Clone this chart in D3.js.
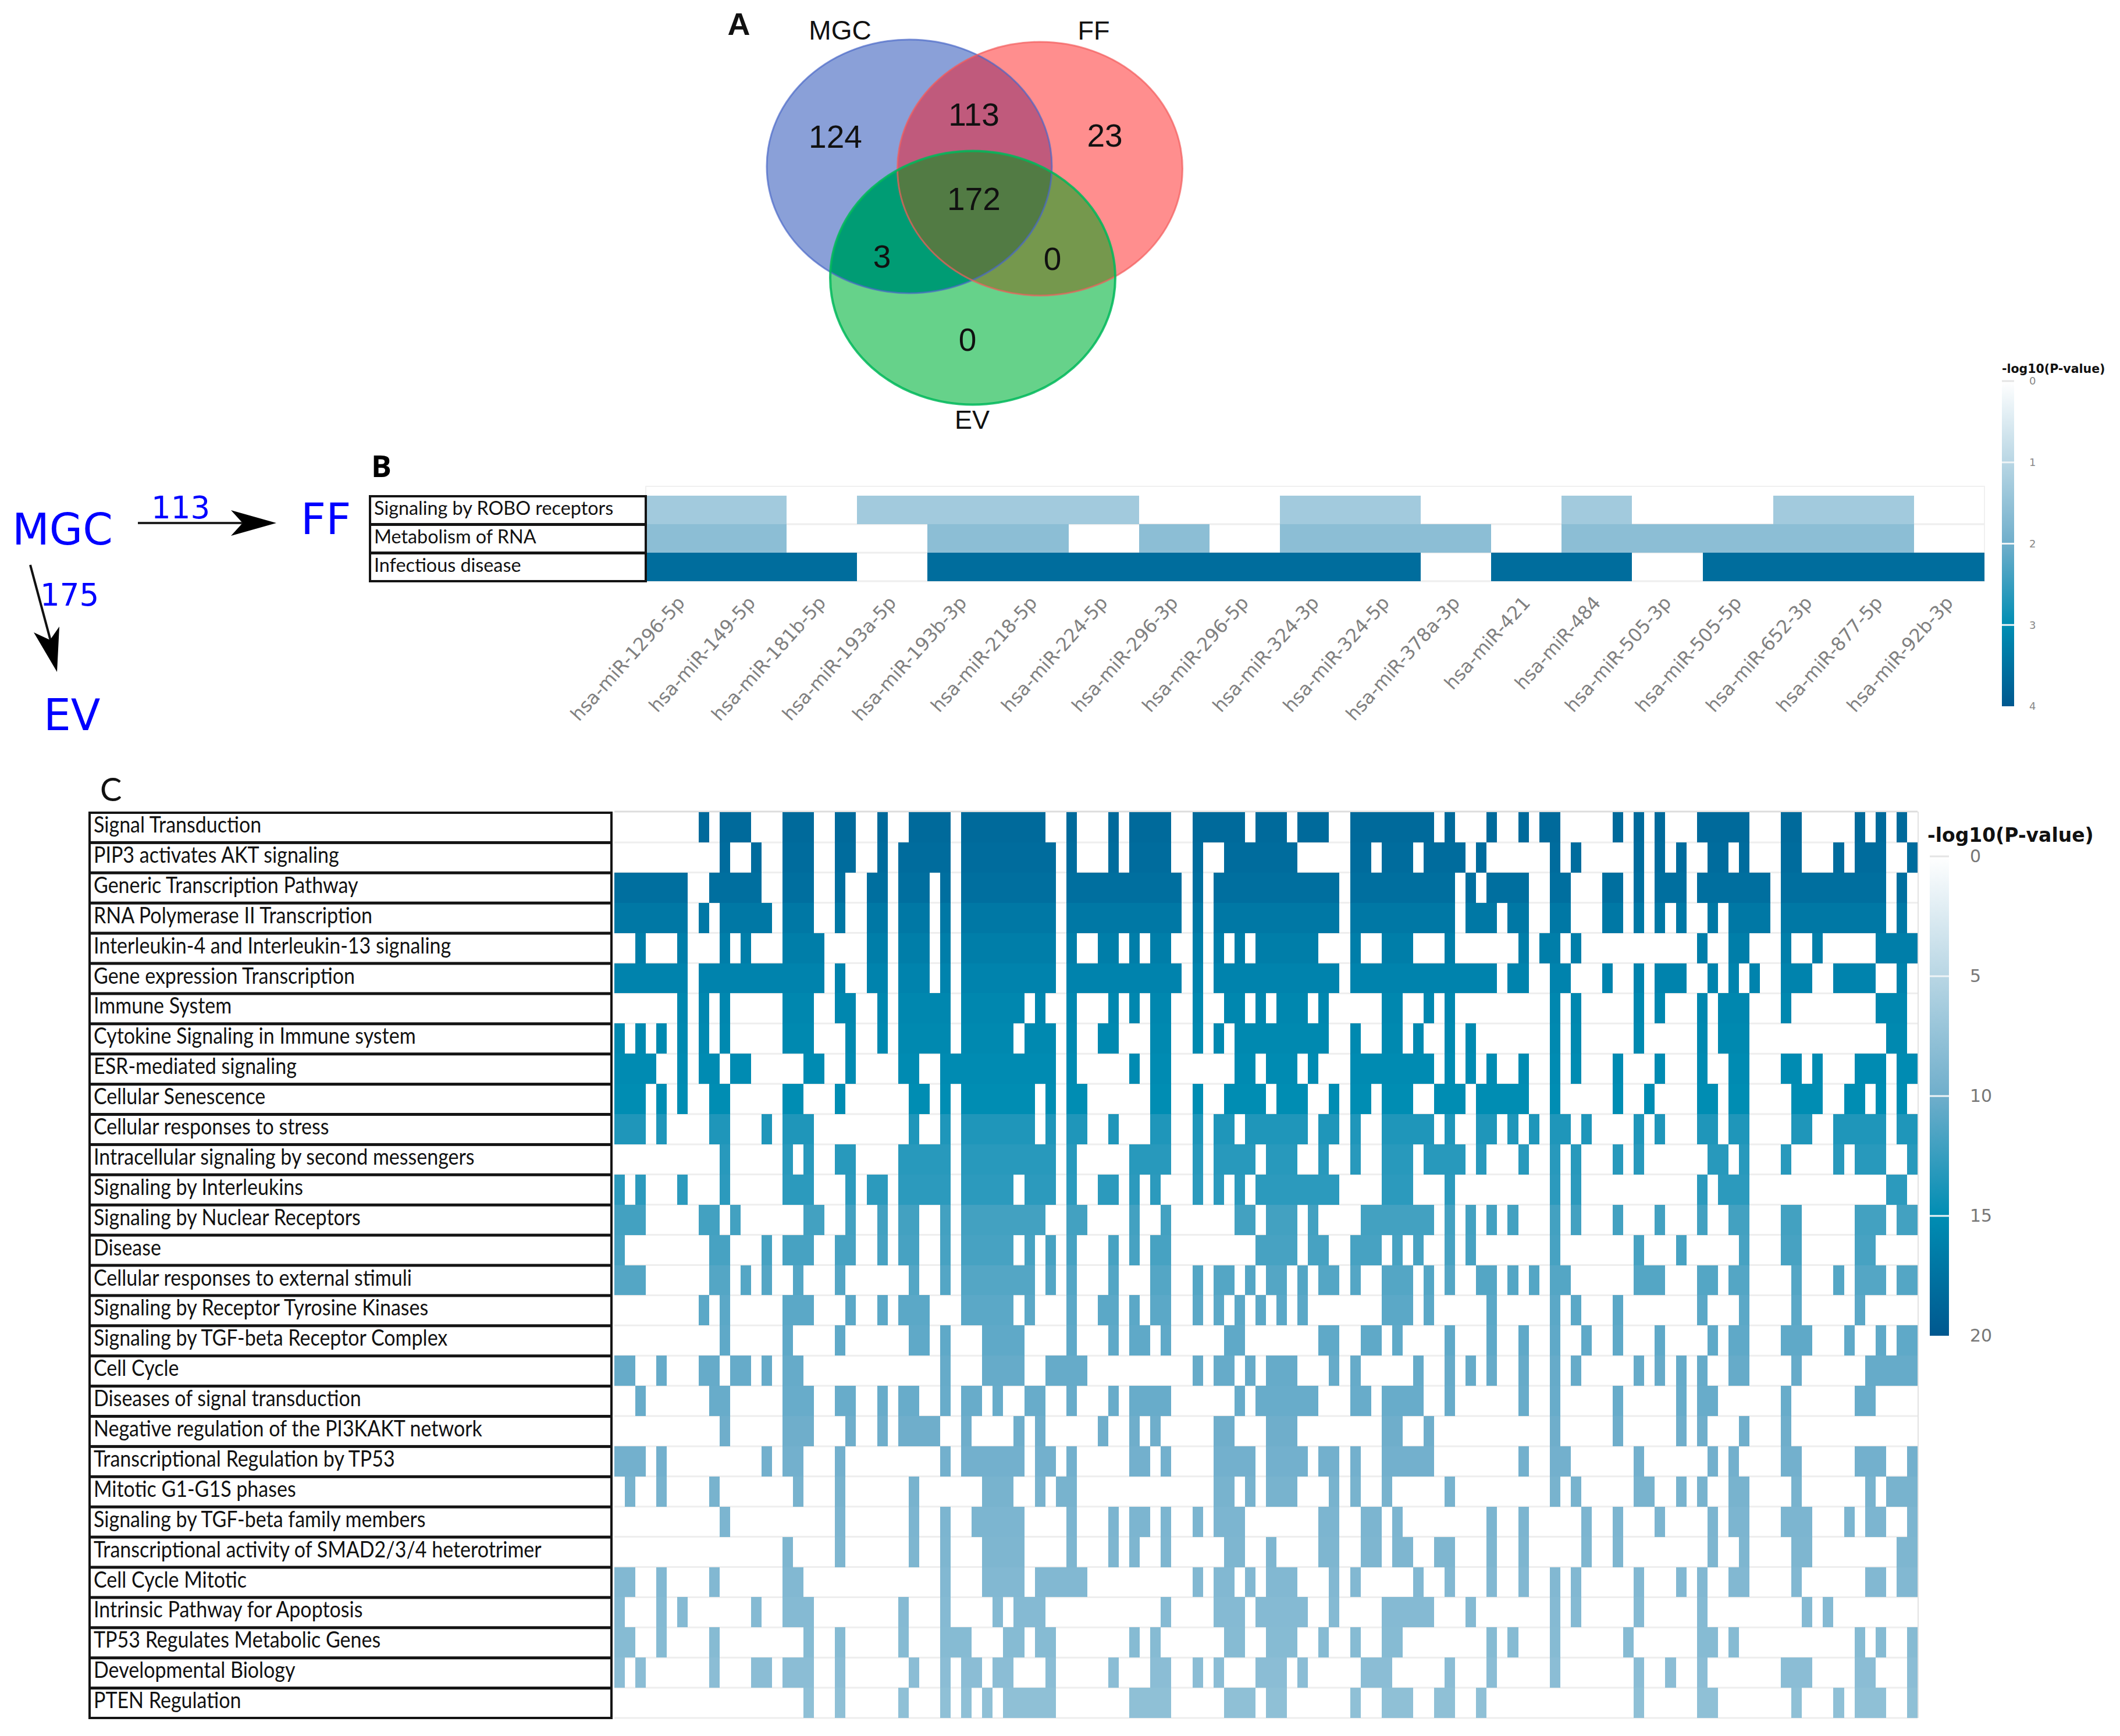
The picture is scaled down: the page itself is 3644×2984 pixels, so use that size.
<!DOCTYPE html>
<html><head><meta charset="utf-8">
<script src="https://cdnjs.cloudflare.com/ajax/libs/d3/7.8.5/d3.min.js"></script>
<style>html,body{margin:0;padding:0;background:#fff}svg{display:block}</style></head>
<body><svg id="c" width="3644" height="2984" xmlns="http://www.w3.org/2000/svg"></svg>
<script>
// ---------- DATA ----------
const vennSets = ["MGC","FF","EV"];
const vennCounts = {mgc:124, mgcFf:113, ff:23, all:172, mgcEv:3, ffEv:0, ev:0};
const flowCounts = {ff:113, ev:175};

const miRNAs = ["hsa-miR-1296-5p","hsa-miR-149-5p","hsa-miR-181b-5p","hsa-miR-193a-5p","hsa-miR-193b-3p","hsa-miR-218-5p","hsa-miR-224-5p","hsa-miR-296-3p","hsa-miR-296-5p","hsa-miR-324-3p","hsa-miR-324-5p","hsa-miR-378a-3p","hsa-miR-421","hsa-miR-484","hsa-miR-505-3p","hsa-miR-505-5p","hsa-miR-652-3p","hsa-miR-877-5p","hsa-miR-92b-3p"];
const pathwaysB = ["Signaling by ROBO receptors","Metabolism of RNA","Infectious disease"];
const valuesB = [1.3, 1.6, 3.6];
const hitsB = ["0-1 3-6 9-10 13 16-17","0-1 4-5 7 9-11 13-17","0-2 4-10 12-13 15-18"];

const pathwaysC = ["Signal Transduction","PIP3 activates AKT signaling","Generic Transcription Pathway","RNA Polymerase II Transcription","Interleukin-4 and Interleukin-13 signaling","Gene expression Transcription","Immune System","Cytokine Signaling in Immune system","ESR-mediated signaling","Cellular Senescence","Cellular responses to stress","Intracellular signaling by second messengers","Signaling by Interleukins","Signaling by Nuclear Receptors","Disease","Cellular responses to external stimuli","Signaling by Receptor Tyrosine Kinases","Signaling by TGF-beta Receptor Complex","Cell Cycle","Diseases of signal transduction","Negative regulation of the PI3KAKT network","Transcriptional Regulation by TP53","Mitotic G1-G1S phases","Signaling by TGF-beta family members","Transcriptional activity of SMAD2/3/4 heterotrimer","Cell Cycle Mitotic","Intrinsic Pathway for Apoptosis","TP53 Regulates Metabolic Genes","Developmental Biology","PTEN Regulation"];
const valuesC = [18.3,18.1,17.8,17,16.4,15.9,15.6,15.4,15.2,15,13.6,13.2,13,12,11.8,11.2,10.9,10.7,10.4,10.3,10,9.7,9.4,9.1,9,8.7,8.5,8.4,8.1,7.8];
const columnCountC = 124;
const hitsC = [
"8 10-12 16-18 21-22 25 28-31 33-40 43 47 49-52 55-59 61-63 65-67 70-77 79 83 86 88-89 95 97 99 103-107 111-112 118 120 122",
"10 13 16-18 21-22 25 27-31 33-41 43 47 49-52 55 58-64 70-71 73-75 77-80 82 89 91 97 99 101 104-105 107 111-112 116 118-120 123",
"0-6 9-13 16-18 21 24-25 27-29 31 33-41 43-53 55 57-68 70-79 81 83-86 89-90 94-95 97 99-101 103-109 111-120 122",
"0-6 8 10-14 16-18 21 24-25 27-29 31 33-41 43-53 55 57-68 70-79 81-83 85-86 89-90 94-95 97 99 101 104 106-109 111-120 122",
"2 6 10 12 16-19 24-25 27-29 31 33-41 43 46-47 49 51-52 55 57 59 61-66 70 73-75 79 86 88-89 91 103 106-107 111 114 120-123",
"0-6 8-19 21 24-25 27-29 31 33-41 43-53 55 57-68 70-83 85-86 89-90 94 97 99-101 104 106 108 111-113 116-119 122",
"6 8 10 16-18 21-22 25 27-31 33-38 40 43 47 49 51-52 55 58-59 61 63-65 67 73-74 77 79 89 91 97 99 103 105-107 111 120-122",
"0 2 4 6 8 10 16-18 22 25 27-31 33-37 39-41 43 46-47 51-52 55 57 59-67 70 73-74 76 79 81 89 91 97 103 105-107 121-122",
"0-3 6 8-9 11-12 18-19 22 27-28 31-41 43 49 51-52 59-60 62-64 66 70-77 79 81 83 86 89 91 95 99 103 106-107 111-112 114 118-120 122-123",
"0-2 4 6 9-10 16-17 21 28-29 31 33-39 41 43-44 51-52 55 58-61 63-65 68 70-71 73-75 78-80 82-86 89 95 98 103-104 106-107 112-114 117-118 120 122",
"0-2 4 9-10 14 16-18 28 31 33-39 41 43-44 47 51-52 55 57-58 60-65 67-68 70 73-77 79 82-83 85 87 89-90 92 97 99 103-104 106-107 112-113 116-120 122-123",
"10 16 18 21-22 27-31 33-41 43 49-52 55 57-60 62-64 67 70 73-75 77-80 82 86 89 91 95 97 104-105 107 111 116 118-120 123",
"0 2 6 10 16-18 22 24-25 27-31 33-37 39-41 43 46-47 49 51 55 57 59 61-68 73-75 79 89 91 103 105-107 121-122",
"0-2 8-9 11 18-19 22 25 27-28 31 33-40 43-44 49 52 59-60 62-64 66 71-77 79 81 83 85 89 91 95 99 103 106-107 111-112 118-120 122-123",
"0 9-10 14 16-18 21-22 25 27-28 31 33-37 39 41 43 47 49 51-52 61-64 66-67 70-72 74 76 79 81 89 97 101 107 111-112 118-119",
"0-2 9-10 12 14 17 21 28 31 33-39 41 43 47 51-52 55 57-58 60 62-63 65 67-68 70 73-75 77 79 82-83 85 87 89-90 97-99 103-104 106-107 112 116 118-120 122-123",
"8 10 16-18 22 25 27-29 33-37 39 43 46-47 49 51-52 55 57 59 61 63 65 73-75 77 83 89 91 95 103 107 112 118",
"10 16 21 28-29 31 35-38 43 47 49-50 52 58-59 67-68 71-72 74 79 83 86 89 92 95 99 104 106-107 111-113 117 120 122-123",
"0-1 4 8-9 11-12 14 16-17 31 35-38 41-44 55 57-58 60 62-64 68 70 76 79 81 83 86 89 91 97 99 101 103 106-107 112 119-123",
"2 9-10 16-18 21-22 25 27-28 31 33-34 36 39-40 43 47 49-52 59 61-66 70-71 73-76 79 86 89 95 101 103-104 111 118-119",
"10 16-18 22 25 27-30 33 38 40 46 49 51 57-58 62-64 73-74 77 89 95 101 103 107 111",
"0-2 4 14 16-17 21 31 33-38 40-41 43 49-50 52 57-60 62-65 67-68 70 73-77 86 89-90 97 104 106 111-112 118-120 123",
"1 4 9 17 21 28 35-37 40 42-43 57-58 60 62-64 68 70 73 79 89 91 97-98 101 103 106-107 112 119 121-123",
"10 21 28 31 34-38 43 47 49-50 52 55 57-59 67-68 71-72 74 83 86 92 95 99 104 106-107 111-113 117 119-120 123",
"16 21 28 31 35-38 43 47 49 52 58-59 62 67-68 71-72 74-75 78-79 83 86 92 95 104 107 112-113 122-123",
"0-1 4 9 16-17 31 35-38 40-44 55 57-58 60 62-64 68 70 76 79 83 86 89 91 97 101 103 106-107 112 119-120 122-123",
"0 4 6 13 16-18 27 31 36 38-40 52 57-59 61-65 68 73-77 81 89 91 97 103 113 115",
"0-1 4 9 18 21 27 31-33 37-38 40-41 49 51 58-59 62-64 67 70 73-74 83 85 89 96 103-104 106 118 120 123",
"0 2 9 13-14 16-18 21 28 31 33-34 36-37 41 47 51-52 55 57 61-63 65 71-73 79 83 89 97 100 103 111-113 118-119 123",
"18 21 27 31 33 35 37-41 49-52 58-60 62-63 70 73-75 78-79 82 97 103-104 112 116 118-120 123"
];
const legendTicksB = [0,1,2,3,4];
const legendTicksC = [0,5,10,15,20];
const legendTitle = "-log10(P-value)";
const rampColors = ["#ffffff","#b8d6e4","#6faecb","#008db3","#00588f"];

// ---------- HELPERS ----------
const svg = d3.select("#c");
svg.append("rect").attr("width",3644).attr("height",2984).attr("fill","#fff");
const expand = s => s.split(" ").flatMap(t => {
  const [a,b] = t.split("-").map(Number);
  return b===undefined ? [a] : d3.range(a,b+1);
});
const colorC = d3.scaleLinear().domain([0,5,10,15,20]).range(rampColors);
const colorB = d3.scaleLinear().domain([0,1,2,3,4]).range(rampColors);
const TABLE_FONT = "Lato, 'Open Sans', sans-serif";

function heatmap(opt){
  const {x,y,rows,values,hits,color,g} = opt;
  g.append("g").selectAll("line").data(rows).join("line")
    .attr("x1",x.range()[0]).attr("x2",x.range()[1])
    .attr("y1",d=>y(d)+y.bandwidth()).attr("y2",d=>y(d)+y.bandwidth())
    .attr("stroke","#eeeeee").attr("stroke-width",3);
  const cells = rows.flatMap((r,i)=>expand(hits[i]).map(c=>({r,c,v:values[i]})));
  g.append("g").attr("shape-rendering","crispEdges").selectAll("rect").data(cells).join("rect")
    .attr("x",d=>x(d.c)).attr("y",d=>y(d.r))
    .attr("width",x.bandwidth()).attr("height",y.bandwidth())
    .attr("fill",d=>color(d.v));
}
function table(opt){
  const {g,y,rows,x0,x1,size,sx,dy} = opt;
  const t = g.selectAll("g").data(rows).join("g");
  t.append("rect").attr("x",x0).attr("y",d=>y(d)+1).attr("width",x1-x0).attr("height",y.bandwidth()-1)
    .attr("fill","#fff").attr("stroke","#141414").attr("stroke-width",4);
  t.append("text").text(d=>d)
    .attr("transform",d=>`translate(${x0+7},${y(d)+dy}) scale(${sx},1)`)
    .attr("font-family",TABLE_FONT).attr("font-size",size).attr("fill","#111");
}
function colorbar(opt){
  const {id,scale,ticks,x,w,color,font,tx,fill} = opt;
  const [y0,y1] = scale.range();
  const grad = svg.append("defs").append("linearGradient").attr("id",id)
    .attr("x1",0).attr("x2",0).attr("y1",0).attr("y2",1);
  color.domain().forEach((v,i,a)=>grad.append("stop").attr("offset",i/(a.length-1)).attr("stop-color",color(v)));
  svg.append("rect").attr("x",x).attr("y",y0).attr("width",w).attr("height",y1-y0).attr("fill",`url(#${id})`);
  svg.append("g").selectAll("line").data(ticks).join("line")
    .attr("x1",x).attr("x2",x+w).attr("y1",d=>scale(d)).attr("y2",d=>scale(d))
    .attr("stroke",(d,i)=>i===0?"#e4e4e4":(i===ticks.length-1?"none":"#eef3f6")).attr("stroke-width",3);
  const ax = svg.append("g").attr("transform",`translate(${x+w},0)`)
    .call(d3.axisRight(scale).tickValues(ticks).tickFormat(d3.format("d")).tickSize(0).tickPadding(tx));
  ax.select(".domain").remove();
  ax.selectAll("text").attr("font-family","'DejaVu Sans'").attr("font-size",font).attr("fill",fill);
}

// ---------- PANEL A : Venn ----------
const venn = svg.append("g");
const ellipses = {
  mgc:{cx:1563,cy:286,fill:"#8aa0d8",stroke:"#4a68c8"},
  ff:{cx:1787.5,cy:290,fill:"#ff8e8e",stroke:"#f25c5c"},
  ev:{cx:1672,cy:477.5,fill:"#66d28a",stroke:"#00b85a"}
};
const RX=245, RY=218;
const defs = svg.append("defs");
Object.entries(ellipses).forEach(([k,e])=>{
  defs.append("clipPath").attr("id","clip-"+k).append("ellipse")
    .attr("cx",e.cx).attr("cy",e.cy).attr("rx",RX).attr("ry",RY);
});
const drawE = (sel,k,fill)=>sel.append("ellipse").attr("cx",ellipses[k].cx).attr("cy",ellipses[k].cy)
  .attr("rx",RX).attr("ry",RY).attr("fill",fill);
["mgc","ff","ev"].forEach(k=>drawE(venn,k,ellipses[k].fill));
drawE(venn.append("g").attr("clip-path","url(#clip-mgc)"),"ff","#c05a7c");
drawE(venn.append("g").attr("clip-path","url(#clip-mgc)"),"ev","#009c74");
drawE(venn.append("g").attr("clip-path","url(#clip-ff)"),"ev","#75984d");
drawE(venn.append("g").attr("clip-path","url(#clip-mgc)").append("g").attr("clip-path","url(#clip-ff)"),"ev","#527b44");
["mgc","ff"].forEach(k=>drawE(venn,k,"none").attr("stroke",ellipses[k].stroke).attr("stroke-width",3).attr("stroke-opacity",.7));
drawE(venn,"ev","none").attr("stroke",ellipses.ev.stroke).attr("stroke-width",4).attr("stroke-opacity",.85);
const vt = (s,x,y,size,w)=>venn.append("text").text(s).attr("x",x).attr("y",y)
  .attr("text-anchor","middle").attr("font-family","'Liberation Sans'").attr("font-size",size)
  .attr("font-weight",w||400).attr("fill","#111");
vt(vennSets[0],1444,68,46); vt(vennSets[1],1880,68,45); vt(vennSets[2],1671,737,45);
vt(vennCounts.mgc,1436,254,55); vt(vennCounts.mgcFf,1674,216,55); vt(vennCounts.ff,1899,252,55);
vt(vennCounts.all,1674,361,55); vt(vennCounts.mgcEv,1516,460,55); vt(vennCounts.ffEv,1809,464,55); vt(vennCounts.ev,1663,603,55);
vt("A",1270,60,54,700);

// ---------- Flow diagram ----------
const flow = svg.append("g");
const ft = (s,x,y,size)=>flow.append("text").text(s).attr("x",x).attr("y",y)
  .attr("font-family","'DejaVu Sans'").attr("font-size",size).attr("fill","#0000ff");
ft(vennSets[0],21,936,74); ft(vennSets[1],517,918,75); ft(vennSets[2],75,1255,74);
ft(flowCounts.ff,260,891,53); ft(flowCounts.ev,69,1041,53);
flow.append("line").attr("x1",237).attr("y1",899).attr("x2",430).attr("y2",899).attr("stroke","#222").attr("stroke-width",4);
flow.append("path").attr("d",d3.line()([[475,899],[397,877],[417,899],[397,921]])+"Z").attr("fill","#000");
flow.append("line").attr("x1",52).attr("y1",971).attr("x2",88).attr("y2",1105).attr("stroke","#111").attr("stroke-width",4);
flow.append("path").attr("d",d3.line()([[98,1155],[58,1087],[86,1100],[102,1077]])+"Z").attr("fill","#000");

// ---------- PANEL B ----------
svg.append("text").text("B").attr("x",638).attr("y",820).attr("font-family","'Open Sans'").attr("font-weight",700).attr("font-size",52).attr("fill","#000");
const xB = d3.scaleBand().domain(d3.range(miRNAs.length)).range([1110,3411]);
const yB = d3.scaleBand().domain(pathwaysB).range([852,999]);
const gB = svg.append("g");
gB.append("rect").attr("x",1110).attr("y",836).attr("width",2301).attr("height",163).attr("fill","#fff").attr("stroke","#f0f0f0").attr("stroke-width",2);
heatmap({g:gB,x:xB,y:yB,rows:pathwaysB,values:valuesB,hits:hitsB,color:colorB});
table({g:svg.append("g"),y:yB,rows:pathwaysB,x0:636,x1:1110,size:33,sx:.98,dy:33});
const axB = svg.append("g").attr("transform","translate(0,1030)")
  .call(d3.axisBottom(xB).tickSize(0).tickFormat(i=>miRNAs[i]));
axB.select(".domain").remove();
axB.selectAll("text").attr("text-anchor","end").attr("font-family","'DejaVu Sans'").attr("font-size",32).attr("fill","#808080")
  .attr("x",0).attr("y",0).attr("dy",".35em").attr("transform","translate(0,0) rotate(-48)");
colorbar({id:"gb",scale:d3.scaleLinear().domain([0,4]).range([655,1214]),ticks:legendTicksB,x:3441,w:21,color:colorB,font:18,tx:26,fill:"#888"});
svg.append("text").text(legendTitle).attr("x",3441).attr("y",641).attr("font-family","'DejaVu Sans'").attr("font-weight",700).attr("font-size",20.5).attr("fill","#111");

// ---------- PANEL C ----------
svg.append("text").text("C").attr("x",172).attr("y",1377).attr("font-family",TABLE_FONT).attr("font-size",56).attr("fill","#111");
const xC = d3.scaleBand().domain(d3.range(columnCountC)).range([1056,3296]);
const yC = d3.scaleBand().domain(pathwaysC).range([1396,2953]);
const gC = svg.append("g");
gC.append("line").attr("x1",1056).attr("x2",3296).attr("y1",1395).attr("y2",1395).attr("stroke","#dddddd").attr("stroke-width",3);
gC.append("line").attr("x1",3297).attr("x2",3297).attr("y1",1395).attr("y2",2953).attr("stroke","#e2e2e2").attr("stroke-width",2);
heatmap({g:gC,x:xC,y:yC,rows:pathwaysC,values:valuesC,hits:hitsC,color:colorC});
table({g:svg.append("g"),y:yC,rows:pathwaysC,x0:154,x1:1051,size:38,sx:.895,dy:35});
colorbar({id:"gc",scale:d3.scaleLinear().domain([0,20]).range([1472,2296]),ticks:legendTicksC,x:3317,w:33,color:colorC,font:30,tx:36,fill:"#777"});
svg.append("text").text(legendTitle).attr("x",3313).attr("y",1447).attr("font-family","'DejaVu Sans'").attr("font-weight",700).attr("font-size",33).attr("fill","#111");
</script></body></html>
